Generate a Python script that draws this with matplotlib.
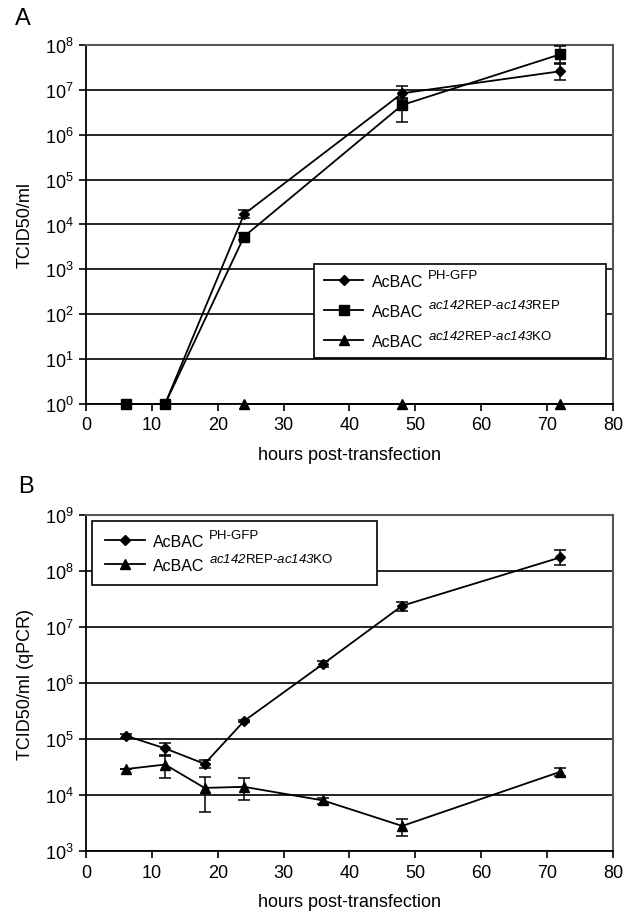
import matplotlib
matplotlib.use("Agg")
import matplotlib.pyplot as plt
from matplotlib.lines import Line2D
import numpy as np

plt.rcParams.update({
    'font.family': ['Liberation Sans', 'DejaVu Sans'],
    'mathtext.fontset': 'custom',
    'mathtext.rm': 'Liberation Sans',
    'mathtext.it': 'Liberation Sans:italic',
    'mathtext.sf': 'Liberation Sans:italic',
    'font.size': 13,
})

# ---- Panel A data (TCID50/ml) ----
a_gfp_x = [6, 12, 24, 48, 72]
a_gfp_y = [1, 1, 1.7e4, 8.4e6, 2.6e7]
a_gfp_lo = [1, 1, 1.4e4, 6.7e6, 1.65e7]
a_gfp_hi = [1, 1, 2.1e4, 1.2e7, 3.8e7]

a_rep_x = [6, 12, 24, 48, 72]
a_rep_y = [1, 1, 5.4e3, 4.6e6, 6.2e7]
a_rep_lo = [1, 1, 4.4e3, 1.9e6, 4.0e7]
a_rep_hi = [1, 1, 6.4e3, 6.2e6, 9.5e7]

a_ko_x = [24, 48, 72]
a_ko_y = [1, 1, 1]

# ---- Panel B data (TCID50/ml qPCR) ----
b_gfp_x = [6, 12, 18, 24, 36, 48, 72]
b_gfp_y = [1.15e5, 6.8e4, 3.6e4, 2.1e5, 2.2e6, 2.4e7, 1.75e8]
b_gfp_lo = [1.05e5, 5.0e4, 3.0e4, 2.0e5, 1.9e6, 1.95e7, 1.27e8]
b_gfp_hi = [1.25e5, 8.5e4, 4.2e4, 2.2e5, 2.5e6, 2.75e7, 2.4e8]

b_ko_x = [6, 12, 18, 24, 36, 48, 72]
b_ko_y = [2.9e4, 3.5e4, 1.34e4, 1.4e4, 8.0e3, 2.8e3, 2.6e4]
b_ko_lo = [2.9e4, 2.0e4, 4.9e3, 8.3e3, 7.0e3, 1.85e3, 2.2e4]
b_ko_hi = [2.9e4, 5.1e4, 2.1e4, 2.0e4, 9.0e3, 3.7e3, 3.0e4]

# legend names: base text + superscript (\mathsf is mapped to italic)
lab_base = 'AcBAC'
sup_gfp = 'PH-GFP'
sup_rep = r'$\mathsf{ac142}\mathrm{REP\text{-}}\mathsf{ac143}\mathrm{REP}$'
sup_ko = r'$\mathsf{ac142}\mathrm{REP\text{-}}\mathsf{ac143}\mathrm{KO}$'

MARK = {'D': 5.5, 's': 6.5, '^': 7}
LEG_FS = 11.5
SUP_FS = 9.5


def err(y, lo, hi):
    y = np.array(y)
    return [y - np.array(lo), np.array(hi) - y]


def handle(m):
    return Line2D([], [], color='black', linewidth=1.3, marker=m, markersize=MARK[m])


def style_axes(ax, ymin, ymax):
    ax.set_yscale('log')
    ax.set_ylim(ymin, ymax)
    ax.set_xlim(0, 80)
    ax.set_xticks(range(0, 81, 10))
    ax.set_yticks([10.0 ** k for k in range(int(np.log10(ymin)), int(np.log10(ymax)) + 1)])
    ax.minorticks_off()
    ax.yaxis.grid(True, color='black', linewidth=1.2)
    ax.set_axisbelow(True)
    for s in ['top', 'right']:
        ax.spines[s].set_color('#555555')
        ax.spines[s].set_linewidth(1.5)
    for s in ['left', 'bottom']:
        ax.spines[s].set_linewidth(1.3)
    ax.tick_params(direction='out', length=5, width=1.2, labelsize=13, pad=4)
    ax.set_xlabel('hours post-transfection', fontsize=13, labelpad=9)


def add_legend(ax, handles, n, anchor, spacing, pad):
    leg = ax.legend(handles, [lab_base] * n, loc='upper left', bbox_to_anchor=anchor,
                    mode='expand', fontsize=LEG_FS, frameon=True, fancybox=False,
                    edgecolor='black', handlelength=2.5, borderpad=pad,
                    labelspacing=spacing, handletextpad=0.5, borderaxespad=0)
    leg.get_frame().set_linewidth(1.2)
    leg.get_frame().set_alpha(1)
    return leg


fig = plt.figure(figsize=(6.25, 9.2), dpi=100)
fig.patch.set_facecolor('white')

ebkw = dict(color='black', linewidth=1.3, capsize=4, elinewidth=1.1,
            capthick=1.1, clip_on=False, zorder=3)

# Panel A
axA = fig.add_axes([0.1376, 0.5598, 0.8432, 0.3902])
axA.errorbar(a_gfp_x, a_gfp_y, yerr=err(a_gfp_y, a_gfp_lo, a_gfp_hi),
             marker='D', markersize=MARK['D'], **ebkw)
axA.errorbar(a_rep_x, a_rep_y, yerr=err(a_rep_y, a_rep_lo, a_rep_hi),
             marker='s', markersize=MARK['s'], **ebkw)
axA.plot(a_ko_x, a_ko_y, color='black', linewidth=1.3, marker='^',
         markersize=MARK['^'], clip_on=False, zorder=3)
style_axes(axA, 1, 1e8)
axA.set_ylabel('TCID50/ml', fontsize=13, labelpad=8)
legA = add_legend(axA, [handle('D'), handle('s'), handle('^')], 3,
                  (0.4326, 0.29, 0.554, 0.1), 0.95, 0.6)
fig.text(0.037, 0.979, 'A', fontsize=17, ha='center', va='center')

# Panel B
axB = fig.add_axes([0.1376, 0.0739, 0.8432, 0.3652])
axB.errorbar(b_gfp_x, b_gfp_y, yerr=err(b_gfp_y, b_gfp_lo, b_gfp_hi),
             marker='D', markersize=MARK['D'], **ebkw)
axB.errorbar(b_ko_x, b_ko_y, yerr=err(b_ko_y, b_ko_lo, b_ko_hi),
             marker='^', markersize=MARK['^'], **ebkw)
style_axes(axB, 1e3, 1e9)
axB.set_ylabel('TCID50/ml (qPCR)', fontsize=13, labelpad=8)
legB = add_legend(axB, [handle('D'), handle('^')], 2,
                  (0.0114, 0.882, 0.541, 0.1), 0.55, 0.8)
fig.text(0.042, 0.471, 'B', fontsize=17, ha='center', va='center')

# superscripts next to the legend names
fig.canvas.draw()
renderer = fig.canvas.get_renderer()
px = fig.dpi / 72.0
for leg, sups in [(legA, [sup_gfp, sup_rep, sup_ko]), (legB, [sup_gfp, sup_ko])]:
    for t, s in zip(leg.get_texts(), sups):
        bb = t.get_window_extent(renderer)
        base = bb.y0 + 0.212 * LEG_FS * px
        x, y = fig.transFigure.inverted().transform((bb.x1 + 5, base + 7))
        fig.text(x, y, s, fontsize=SUP_FS, ha='left', va='baseline')

fig.savefig('out.png', dpi=100, facecolor='white')
